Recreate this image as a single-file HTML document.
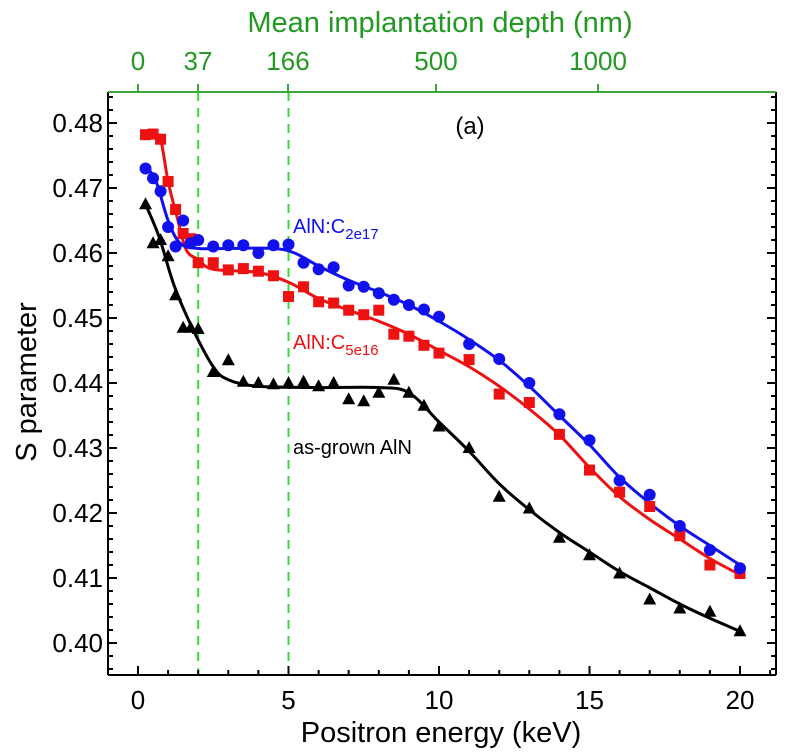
<!DOCTYPE html>
<html><head><meta charset="utf-8"><style>body{margin:0;background:#fff}svg{display:block}text{font-family:"Liberation Sans",Arial,sans-serif}</style></head>
<body><svg id="s" width="798" height="755" xmlns="http://www.w3.org/2000/svg"></svg>
<script>
const s=document.getElementById('s');
const X=e=>138+e*30.1, Y=v=>643-(v-0.40)*6500;
const L=108,R=776,T=92,B=675;
let h='';
[2,5].forEach(e=>h+=`<line x1="${X(e)}" y1="${T}" x2="${X(e)}" y2="${B}" stroke="#33dd33" stroke-width="2" stroke-dasharray="9,7"/>`);
h+=`<line x1="${L}" y1="${B}" x2="${R}" y2="${B}" stroke="#000" stroke-width="2"/><line x1="${L}" y1="${T}" x2="${L}" y2="${B}" stroke="#000" stroke-width="2"/><line x1="${R}" y1="${T}" x2="${R}" y2="${B}" stroke="#000" stroke-width="2"/><line x1="${L}" y1="${T}" x2="${R}" y2="${T}" stroke="#3aa63a" stroke-width="2"/>`;
for(let e=-1;e<=21;e++){const x=X(e);if(x<L||x>R)continue;const m=e%5==0;h+=`<line x1="${x}" y1="${B}" x2="${x}" y2="${B-(m?9:5)}" stroke="#000" stroke-width="2"/>`;if(m)h+=`<text x="${x}" y="${B+34}" font-size="26" text-anchor="middle">${e}</text>`;}
for(let i=395;i<=485;i+=2){if(i%2)continue;}
for(let k=0;k<=45;k++){const n=396+k*2;const v=n/1000;const y=Y(v);if(y<T||y>B)continue;const m=n%10==0;const l=m?9:5;h+=`<line x1="${L}" y1="${y}" x2="${L+l}" y2="${y}" stroke="#000" stroke-width="2"/><line x1="${R}" y1="${y}" x2="${R-l}" y2="${y}" stroke="#000" stroke-width="2"/>`;if(m)h+=`<text x="${L-5}" y="${y+9}" font-size="26" text-anchor="end">${v.toFixed(2)}</text>`;}
[[138,'0'],[198,'37'],[288,'166'],[436,'500'],[598,'1000']].forEach(([x,t])=>h+=`<line x1="${x}" y1="${T}" x2="${x}" y2="${T-8}" stroke="#3aa63a" stroke-width="2"/><text x="${x}" y="70" font-size="26" fill="#229922" text-anchor="middle">${t}</text>`);
h+=`<text x="440" y="32" font-size="29" fill="#229922" text-anchor="middle">Mean implantation depth (nm)</text>`;
h+=`<text x="441" y="742" font-size="29" text-anchor="middle">Positron energy (keV)</text>`;
h+=`<text transform="translate(36,382) rotate(-90)" font-size="29" text-anchor="middle">S parameter</text>`;
h+=`<text x="470" y="134" font-size="24" text-anchor="middle">(a)</text>`;
h+=`<text x="293" y="233" font-size="20" fill="#1010ee">AlN:C<tspan font-size="15" dy="6">2e17</tspan></text>`;
h+=`<text x="293" y="349" font-size="20" fill="#ee1010">AlN:C<tspan font-size="15" dy="6">5e16</tspan></text>`;
h+=`<text x="293" y="454" font-size="20">as-grown AlN</text>`;
const E=[0.25,0.5,0.75,1,1.25,1.5,1.75,2,2.5,3,3.5,4,4.5,5,5.5,6,6.5,7,7.5,8,8.5,9,9.5,10,11,12,13,14,15,16,17,18,19,20];
const bl=[.473,.4715,.4695,.464,.461,.465,.4615,.462,.461,.4612,.4612,.460,.4612,.4613,.4585,.4575,.4578,.455,.4548,.4538,.4528,.452,.4513,.4502,.446,.4437,.44,.4352,.4312,.425,.4228,.418,.4143,.4115];
const rd=[.4782,.4783,.4775,.471,.4667,.463,.4622,.4585,.4585,.4574,.4576,.4572,.4565,.4533,.4548,.4525,.4523,.4512,.4505,.4512,.4475,.4472,.4458,.4446,.4436,.4383,.437,.4321,.4266,.4232,.421,.4165,.412,.4107];
const bk=[.4675,.4615,.462,.4595,.4535,.4485,.4485,.4483,.4417,.4435,.4402,.44,.4398,.44,.4402,.4395,.44,.4375,.4372,.4385,.4405,.4385,.4365,.4333,.43,.4225,.4207,.4162,.4135,.4107,.4067,.4053,.4048,.4018];
const fb=[[0.25,.4735],[0.6,.471],[1,.465],[1.4,.4615],[2,.4607],[3,.4607],[4.5,.4607],[5.2,.46],[6,.458],[7,.4558],[8,.454],[9,.452],[10,.4495],[11,.4467],[12,.4435],[13,.4395],[14,.435],[15,.4305],[16,.4255],[17,.4215],[18,.418],[19,.415],[20,.412]];
const fr=[[0.5,.4785],[0.75,.4775],[1,.471],[1.3,.4655],[1.6,.4605],[2,.459],[2.5,.4575],[4,.457],[5,.4555],[6,.453],[7,.4512],[8,.4495],[9,.4475],[10,.445],[11,.4425],[12,.4395],[13,.436],[14,.432],[15,.427],[16,.4225],[17,.419],[18,.416],[19,.413],[20,.4105]];
const fk=[[0.25,.4675],[0.7,.4625],[1.2,.455],[1.8,.4485],[2.5,.4425],[3,.4405],[4,.4395],[6,.4393],[8,.4393],[9,.4385],[10,.434],[11,.4295],[12,.4245],[13,.4205],[14,.417],[15,.414],[16,.411],[17,.4085],[18,.406],[19,.4038],[20,.4018]];
function cr(p){p=p.map(([e,v])=>[X(e),Y(v)]);let d=`M${p[0][0]},${p[0][1]}`;for(let i=0;i<p.length-1;i++){const a=p[i-1]||p[i],b=p[i],c=p[i+1],q=p[i+2]||c;d+=` C${b[0]+(c[0]-a[0])/6},${b[1]+(c[1]-a[1])/6} ${c[0]-(q[0]-b[0])/6},${c[1]-(q[1]-b[1])/6} ${c[0]},${c[1]}`;}return d;}
h+=`<path d="${cr(fk)}" fill="none" stroke="#000" stroke-width="3"/><path d="${cr(fr)}" fill="none" stroke="#ee1111" stroke-width="3"/><path d="${cr(fb)}" fill="none" stroke="#1111ee" stroke-width="3"/>`;
E.forEach((e,i)=>{const x=X(e);let y=Y(bk[i]);h+=`<polygon points="${x},${y-7} ${x-6.5},${y+5} ${x+6.5},${y+5}" fill="#000"/>`;y=Y(rd[i]);h+=`<rect x="${x-5.5}" y="${y-5.5}" width="11" height="11" fill="#ee1111"/>`;y=Y(bl[i]);h+=`<circle cx="${x}" cy="${y}" r="6" fill="#1111ee"/>`;});
s.innerHTML=h;
</script></body></html>
